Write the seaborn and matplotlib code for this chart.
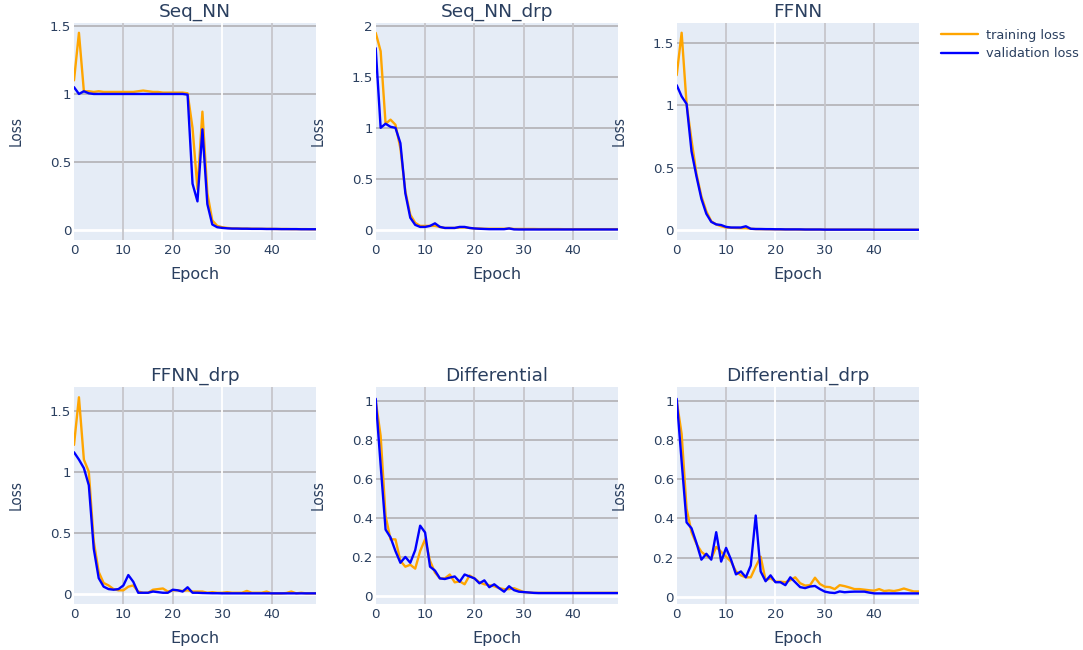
import numpy as np
import pandas as pd
import matplotlib
matplotlib.use("Agg")
import matplotlib.pyplot as plt
import seaborn as sns
from matplotlib.ticker import FuncFormatter, FixedLocator
from matplotlib.lines import Line2D

# ---------------- data ----------------
epochs = list(range(50))

titles = ["Seq_NN", "Seq_NN_drp", "FFNN", "FFNN_drp", "Differential", "Differential_drp"]

seq_nn_train = [1.10, 1.45, 1.02, 1.02, 1.015, 1.02, 1.015, 1.015, 1.015, 1.015,
                1.015, 1.015, 1.015, 1.02, 1.025, 1.02, 1.015, 1.015, 1.01, 1.01,
                1.01, 1.01, 1.01, 1.005, 0.75, 0.30, 0.87, 0.27, 0.07, 0.03,
                0.02, 0.015, 0.012, 0.011, 0.010, 0.010, 0.009, 0.009, 0.008, 0.008,
                0.008, 0.007, 0.007, 0.007, 0.006, 0.006, 0.006, 0.006, 0.005, 0.005]
seq_nn_val = [1.05, 1.00, 1.02, 1.005, 1.0, 1.0, 1.0, 1.0, 1.0, 1.0,
              1.0, 1.0, 1.0, 1.0, 1.0, 1.0, 1.0, 1.0, 1.0, 1.0,
              1.0, 1.0, 1.0, 0.995, 0.34, 0.21, 0.74, 0.19, 0.04, 0.02,
              0.015, 0.012, 0.010, 0.010, 0.009, 0.009, 0.008, 0.008, 0.008, 0.007,
              0.007, 0.007, 0.006, 0.006, 0.006, 0.006, 0.005, 0.005, 0.005, 0.005]

seq_nn_drp_train = [1.93, 1.75, 1.04, 1.08, 1.03, 0.80, 0.38, 0.15, 0.07, 0.04,
                    0.04, 0.04, 0.04, 0.03, 0.02, 0.02, 0.02, 0.025, 0.025, 0.02,
                    0.015, 0.015, 0.012, 0.012, 0.012, 0.012, 0.012, 0.015, 0.010, 0.010,
                    0.010, 0.010, 0.010, 0.009, 0.009, 0.009, 0.009, 0.009, 0.008, 0.008,
                    0.008, 0.008, 0.008, 0.008, 0.008, 0.008, 0.008, 0.008, 0.008, 0.008]
seq_nn_drp_val = [1.78, 1.00, 1.04, 1.01, 1.00, 0.85, 0.36, 0.12, 0.05, 0.03,
                  0.03, 0.04, 0.065, 0.03, 0.02, 0.02, 0.02, 0.03, 0.03, 0.02,
                  0.015, 0.012, 0.010, 0.008, 0.008, 0.008, 0.008, 0.015, 0.006, 0.005,
                  0.005, 0.005, 0.005, 0.005, 0.005, 0.005, 0.005, 0.005, 0.005, 0.005,
                  0.005, 0.005, 0.005, 0.005, 0.005, 0.005, 0.005, 0.005, 0.005, 0.005]

ffnn_train = [1.24, 1.58, 1.01, 0.72, 0.45, 0.27, 0.15, 0.07, 0.045, 0.03,
              0.02, 0.018, 0.016, 0.015, 0.015, 0.010, 0.008, 0.007, 0.007, 0.006,
              0.006, 0.005, 0.005, 0.005, 0.005, 0.004, 0.004, 0.004, 0.004, 0.004,
              0.003, 0.003, 0.003, 0.003, 0.003, 0.003, 0.003, 0.003, 0.003, 0.003,
              0.002, 0.002, 0.002, 0.002, 0.002, 0.002, 0.002, 0.002, 0.002, 0.002]
ffnn_val = [1.16, 1.07, 1.01, 0.63, 0.43, 0.25, 0.13, 0.065, 0.045, 0.04,
            0.025, 0.02, 0.02, 0.02, 0.03, 0.01, 0.008, 0.008, 0.007, 0.007,
            0.006, 0.006, 0.005, 0.005, 0.005, 0.005, 0.004, 0.004, 0.004, 0.004,
            0.003, 0.003, 0.003, 0.003, 0.003, 0.003, 0.003, 0.003, 0.003, 0.003,
            0.002, 0.002, 0.002, 0.002, 0.002, 0.002, 0.002, 0.002, 0.002, 0.002]

ffnn_drp_train = [1.22, 1.61, 1.10, 1.00, 0.43, 0.18, 0.09, 0.07, 0.04, 0.03,
                  0.03, 0.06, 0.07, 0.02, 0.01, 0.01, 0.035, 0.04, 0.045, 0.02,
                  0.03, 0.03, 0.025, 0.03, 0.02, 0.02, 0.02, 0.01, 0.015, 0.01,
                  0.01, 0.015, 0.01, 0.01, 0.01, 0.025, 0.01, 0.01, 0.01, 0.02,
                  0.005, 0.005, 0.005, 0.008, 0.02, 0.005, 0.01, 0.005, 0.005, 0.005]
ffnn_drp_val = [1.16, 1.10, 1.03, 0.89, 0.37, 0.13, 0.06, 0.04, 0.035, 0.04,
                0.07, 0.155, 0.10, 0.01, 0.01, 0.01, 0.02, 0.015, 0.01, 0.01,
                0.035, 0.03, 0.02, 0.055, 0.01, 0.01, 0.008, 0.007, 0.006, 0.006,
                0.005, 0.005, 0.005, 0.005, 0.005, 0.005, 0.005, 0.005, 0.005, 0.005,
                0.005, 0.005, 0.005, 0.005, 0.005, 0.005, 0.005, 0.005, 0.005, 0.005]

diff_train = [1.00, 0.82, 0.41, 0.29, 0.29, 0.18, 0.15, 0.16, 0.14, 0.23,
              0.29, 0.18, 0.12, 0.09, 0.09, 0.11, 0.07, 0.075, 0.06, 0.105,
              0.09, 0.07, 0.06, 0.055, 0.05, 0.04, 0.035, 0.035, 0.04, 0.03,
              0.02, 0.018, 0.016, 0.016, 0.016, 0.016, 0.016, 0.016, 0.016, 0.016,
              0.016, 0.016, 0.016, 0.016, 0.016, 0.016, 0.016, 0.016, 0.016, 0.016]
diff_val = [1.01, 0.67, 0.34, 0.30, 0.23, 0.17, 0.20, 0.17, 0.235, 0.36,
            0.325, 0.15, 0.13, 0.09, 0.087, 0.094, 0.10, 0.073, 0.11, 0.10,
            0.09, 0.065, 0.08, 0.045, 0.06, 0.04, 0.022, 0.05, 0.03, 0.022,
            0.02, 0.018, 0.016, 0.015, 0.015, 0.015, 0.015, 0.015, 0.015, 0.015,
            0.015, 0.015, 0.015, 0.015, 0.015, 0.015, 0.015, 0.015, 0.015, 0.015]

diff_drp_train = [1.00, 0.83, 0.45, 0.33, 0.27, 0.23, 0.21, 0.195, 0.255, 0.23,
                  0.205, 0.18, 0.13, 0.11, 0.10, 0.10, 0.155, 0.205, 0.085, 0.095,
                  0.078, 0.078, 0.075, 0.085, 0.10, 0.07, 0.058, 0.06, 0.098, 0.066,
                  0.052, 0.05, 0.04, 0.06, 0.055, 0.048, 0.04, 0.04, 0.037, 0.034,
                  0.032, 0.04, 0.03, 0.033, 0.03, 0.035, 0.043, 0.035, 0.028, 0.028]
diff_drp_val = [1.01, 0.69, 0.38, 0.35, 0.275, 0.19, 0.22, 0.19, 0.33, 0.18,
                0.25, 0.19, 0.115, 0.13, 0.10, 0.16, 0.415, 0.13, 0.08, 0.11,
                0.075, 0.075, 0.06, 0.10, 0.075, 0.05, 0.045, 0.053, 0.056, 0.04,
                0.027, 0.022, 0.02, 0.028, 0.024, 0.026, 0.027, 0.027, 0.027, 0.022,
                0.018, 0.018, 0.018, 0.018, 0.018, 0.018, 0.018, 0.018, 0.018, 0.018]

series_train = [seq_nn_train, seq_nn_drp_train, ffnn_train, ffnn_drp_train, diff_train, diff_drp_train]
series_val = [seq_nn_val, seq_nn_drp_val, ffnn_val, ffnn_drp_val, diff_val, diff_drp_val]

y_ticks = [[0, 0.5, 1, 1.5], [0, 0.5, 1, 1.5, 2], [0, 0.5, 1, 1.5],
           [0, 0.5, 1, 1.5], [0, 0.2, 0.4, 0.6, 0.8, 1], [0, 0.2, 0.4, 0.6, 0.8, 1]]
x_ticks = [0, 10, 20, 30, 40]
legend_labels = ["training loss", "validation loss"]

# ---------------- style ----------------
y_limits = [(-0.074, 1.522), (-0.098, 2.026), (-0.08, 1.658),
            (-0.082, 1.694), (-0.041, 1.07), (-0.036, 1.07)]
white_vgrid = [[30], [], [20], [30], [], [20]]
colors = {"training loss": "#FFA500", "validation loss": "#0000FF"}
TXT = "#2a3f5f"
BG = "#E5ECF6"

sns.set_theme(style="darkgrid")
plt.rcParams["font.family"] = ["DejaVu Sans"]

W, H = 1083, 650
fig = plt.figure(figsize=(W / 100, H / 100), dpi=100)

col_left = [74, 375.7, 676.7]
row_top = [23, 387]
aw, ah = 242, 217

for i, title in enumerate(titles):
    r, c = divmod(i, 3)
    left = col_left[c]
    top = row_top[r]
    ax = fig.add_axes([left / W, 1 - (top + ah) / H, aw / W, ah / H])
    ax.set_facecolor(BG)

    df = pd.DataFrame({
        "Epoch": epochs * 2,
        "Loss": series_train[i] + series_val[i],
        "kind": [legend_labels[0]] * len(epochs) + [legend_labels[1]] * len(epochs),
    })
    sns.lineplot(data=df, x="Epoch", y="Loss", hue="kind", hue_order=legend_labels,
                 palette=colors, linewidth=1.7, ax=ax, legend=False, zorder=3)

    ax.set_xlim(0, 49)
    ax.set_ylim(*y_limits[i])
    ax.grid(False)
    for yt in y_ticks[i]:
        if yt == 0:
            ax.axhline(0, color="white", lw=2.0, zorder=1)
        else:
            ax.axhline(yt, color="#b9b9be", lw=1.4, zorder=1)
    for xt in x_ticks:
        if xt == 0:
            continue
        colr = "white" if xt in white_vgrid[i] else "#c6c6cb"
        ax.axvline(xt, color=colr, lw=1.3, zorder=1)

    ax.xaxis.set_major_locator(FixedLocator(x_ticks))
    ax.yaxis.set_major_locator(FixedLocator(y_ticks[i]))
    ax.yaxis.set_major_formatter(FuncFormatter(lambda v, p: f"{v:g}"))
    ax.tick_params(axis="both", length=0, labelsize=9.6, colors=TXT, pad=2)
    ax.tick_params(axis="x", pad=3)
    for s in ax.spines.values():
        s.set_visible(False)

    ax.set_xlabel("Epoch", fontsize=11.5, color=TXT)
    ax.xaxis.label.set_va("center")
    ax.xaxis.set_label_coords(0.5, -(275 - 240) / ah)
    ax.set_ylabel("Loss", fontsize=11, color=TXT, fontstretch="condensed",
                  family=["Liberation Sans Narrow", "DejaVu Sans"])
    ax.yaxis.label.set_va("center")
    ax.yaxis.label.set_ha("center")
    ax.yaxis.set_label_coords((16 - 74) / aw, 0.5)
    ax.yaxis.label.set_zorder(10)
    ax.text(0.5, 1 + 11 / ah, title, transform=ax.transAxes, ha="center", va="center",
            fontsize=13.3, color=TXT)

handles = [Line2D([], [], color=colors[l], lw=1.7) for l in legend_labels]
fig.legend(handles, legend_labels, loc="upper left",
           bbox_to_anchor=(941 / W, 1 - 29 / H), frameon=False,
           fontsize=9.3, labelcolor=TXT, handlelength=2.9, handletextpad=0.55,
           labelspacing=0.4, borderpad=0, borderaxespad=0)

fig.savefig("out.png", dpi=100, facecolor="white")
